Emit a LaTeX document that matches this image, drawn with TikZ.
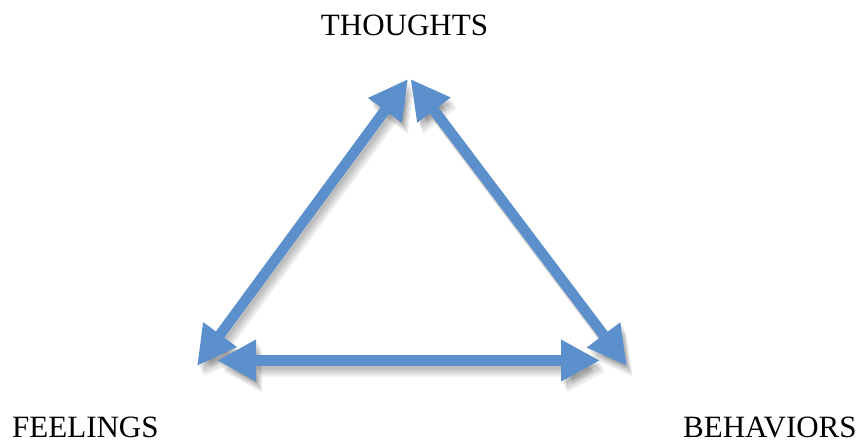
\documentclass[tikz,border=0pt]{standalone}
\usepackage{fontspec}
\setmainfont{Liberation Serif}
\usetikzlibrary{arrows.meta}
\definecolor{arrowblue}{RGB}{91,144,204}
\tikzset{
  lbl/.style={inner sep=0pt, font=\fontsize{31}{37}\selectfont},
  dbl/.style={line width=10.5pt, {Triangle[length=39pt,width=39pt]}-{Triangle[length=39pt,width=39pt]}},
  arr/.style={dbl, draw=arrowblue, fill=arrowblue},
  shd/.style={dbl, draw=black, opacity=0.06}
}
\begin{document}
\begin{tikzpicture}[x=1pt,y=-1pt]
\useasboundingbox (0,0) rectangle (866,443);
\node[lbl, anchor=base] (thoughts) at (404.5,36) {THOUGHTS};
\node[lbl, anchor=base west] (feelings) at (12,437) {FEELINGS};
\node[lbl, anchor=base west] (behaviors) at (683,437) {BEHAVIORS};
\coordinate (tl) at (408,79);
\coordinate (tr) at (410.5,79);
\coordinate (bl) at (197,366);
\coordinate (br) at (627,366);
\coordinate (hl) at (217,360.5);
\coordinate (hr) at (600,360.5);
% soft shadows
\foreach \dx/\dy in {2/3,3/5,4/7,5/9,6/11}{
  \draw[shd] ([shift={(\dx,\dy)}]tl) -- ([shift={(\dx,\dy)}]bl);
  \draw[shd] ([shift={(\dx,\dy)}]tr) -- ([shift={(\dx,\dy)}]br);
  \draw[shd] ([shift={(\dx,\dy)}]hl) -- ([shift={(\dx,\dy)}]hr);
}
\draw[arr] (tl) -- (bl);
\draw[arr] (tr) -- (br);
\draw[arr] (hl) -- (hr);
\end{tikzpicture}
\end{document}
